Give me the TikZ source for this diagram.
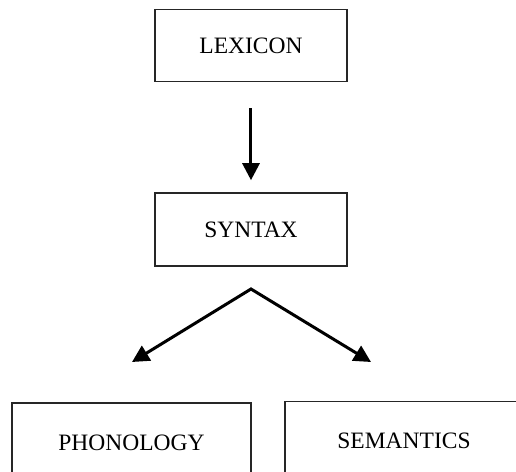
\documentclass[tikz,border=0pt]{standalone}
\usepackage{fontspec}
\setmainfont{Liberation Serif}
\usepackage{tikz}
\usetikzlibrary{positioning,arrows.meta}

\begin{document}
\begin{tikzpicture}[
    x=0.5pt, y=-0.5pt,
    level/.style={rectangle, draw=black!85, line width=0.8pt, inner sep=0pt, align=center, font=\fontsize{11.75}{14}\selectfont},
    arrow/.style={-{Triangle[length=8.5pt, width=8.5pt]}, line width=1.5pt, line join=miter}
]
\useasboundingbox (0,0) rectangle (516,472);
\clip (0,0) rectangle (516,472);

% the four levels of the grammar
\node[level, minimum width=96pt, minimum height=36pt] (lexicon) at (251,45.5) {LEXICON};
\node[level, minimum width=96pt, minimum height=36.5pt] (syntax) at (251,229.5) {SYNTAX};
\node[level, minimum width=119.5pt, minimum height=40pt] (phonology) at (131.5,443) {PHONOLOGY};
\node[level, minimum width=119pt, minimum height=39pt] (semantics) at (404,440.5) {SEMANTICS};

% the fork below syntax
\coordinate (fork) at (251,289);
\coordinate (lefttip) at (132,362);
\coordinate (righttip) at (371,362);

\draw[arrow, shorten <=13pt, shorten >=6pt] (lexicon) -- (syntax);
\draw[arrow, {Triangle[length=8.5pt, width=8.5pt]}-{Triangle[length=8.5pt, width=8.5pt]}] (lefttip) -- (fork) -- (righttip);

\end{tikzpicture}
\end{document}
